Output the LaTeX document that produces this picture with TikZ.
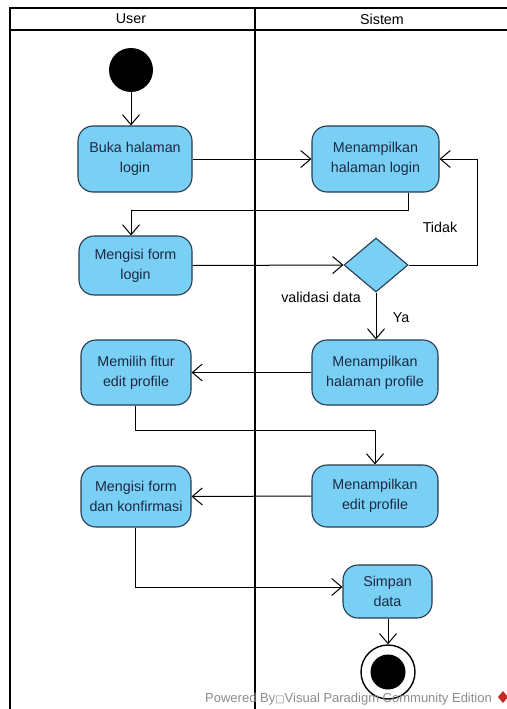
\documentclass[tikz,border=0pt]{standalone}
\usepackage{fontspec}
\setmainfont{Liberation Sans}
\newfontfamily\symfont{DejaVu Sans}
\usetikzlibrary{arrows.meta,shapes.geometric}
\definecolor{actfill}{RGB}{122,207,245}
\definecolor{actline}{RGB}{38,58,80}
\definecolor{acttext}{RGB}{28,42,66}
\definecolor{vpred}{RGB}{200,40,40}
\tikzset{
  act/.style={draw=actline, line width=1.1pt, fill=actfill, rounded corners=15pt,
    text=acttext, align=center, font=\fontsize{14.3}{20}\selectfont, inner sep=0pt},
  decision/.style={draw=actline, line width=1.1pt, fill=actfill, diamond, inner sep=0pt,
    minimum width=64pt, minimum height=54pt},
  flow/.style={draw=black, line width=1pt,
    -{Straight Barb[length=10pt,width=17pt,line width=1pt]}},
  lane/.style={draw=black, line width=2pt},
  lbl/.style={text=black, font=\fontsize{14.3}{16}\selectfont, inner sep=0pt}
}
\begin{document}
\begin{tikzpicture}[x=1pt,y=-1pt]
  \useasboundingbox (0,0) rectangle (506,709);
  \fill[white] (0,0) rectangle (506,709);

  % swimlane frame
  \draw[lane] (10,730) -- (10,8) -- (530,8);
  \draw[lane] (10,30) -- (530,30);
  \draw[lane] (255,8) -- (255,730);
  \node[lbl] (hUser) at (131,19) {User};
  \node[lbl] (hSistem) at (382,19) {Sistem};

  % start
  \node[circle, fill=black, minimum size=44pt, inner sep=0pt] (start) at (131,70) {};

  % actions
  \node[act, minimum width=114pt, minimum height=66pt] (buka) at (135,159) {Buka halaman\\login};
  \node[act, minimum width=113pt, minimum height=59pt] (formlogin) at (135.5,265.5) {Mengisi form\\login};
  \node[act, minimum width=127pt, minimum height=66pt] (menlogin) at (375.5,159) {Menampilkan\\halaman login};
  \node[decision] (valid) at (376,265) {};
  \node[act, minimum width=126pt, minimum height=65pt] (menprofile) at (375,372.5) {Menampilkan\\halaman profile};
  \node[act, minimum width=110pt, minimum height=65pt] (memilih) at (136,372.5) {Memilih fitur\\edit profile};
  \node[act, minimum width=126pt, minimum height=62pt] (menedit) at (375,496) {Menampilkan\\edit profile};
  \node[act, minimum width=110pt, minimum height=61pt] (konfirm) at (136,496.5) {Mengisi form\\dan konfirmasi};
  \node[act, minimum width=89pt, minimum height=53pt] (simpan) at (387.5,591.5) {Simpan\\data};

  % end
  \node[circle, draw=black, line width=1.4pt, fill=white, minimum size=54pt, inner sep=0pt] (final) at (388,672) {};
  \node[circle, fill=black, minimum size=35pt, inner sep=0pt] (finaldot) at (final.center) {};

  % bend points
  \coordinate (k1) at (408,210);
  \coordinate (k2) at (131,210);
  \coordinate (t1) at (477,265);
  \coordinate (t2) at (477,159);
  \coordinate (m1) at (135,430);
  \coordinate (m2) at (375,430);
  \coordinate (s1) at (135,587);

  % flows
  \draw[flow] (start) -- (buka.north -| start);
  \draw[flow] (buka.east) -- (menlogin.west);
  \draw[flow] (menlogin.south -| k1) -- (k1) -- (k2) -- (formlogin.north -| k2);
  \draw[flow] (formlogin.east) -- (valid.west);
  \draw[flow] (valid.east) -- (t1) -- (t2) -- (menlogin.east);
  \draw[flow] (valid.south) -- (menprofile.north -| valid.south);
  \draw[flow] (menprofile.west) -- (memilih.east);
  \draw[flow] (memilih.south -| m1) -- (m1) -- (m2) -- (menedit.north -| m2);
  \draw[flow] (menedit.west) -- (konfirm.east);
  \draw[flow] (konfirm.south -| s1) -- (s1) -- (simpan.west |- s1);
  \draw[flow] (simpan.south -| final) -- (final.north);

  % guards
  \node[lbl] (ltidak) at (440,227) {Tidak};
  \node[lbl] (lvalid) at (321,297) {validasi data};
  \node[lbl] (lya) at (401,318) {Ya};

  % watermark
  \node[anchor=base west, inner sep=0pt, text=black!45, font=\fontsize{13}{14}\selectfont] (wm) at (205,702)
    {Powered By{\symfont\fontsize{10}{11}\selectfont □}Visual Paradigm Community Edition};
  \fill[vpred] (503,691) -- (508,697) -- (503,703) -- (498,697) -- cycle;
\end{tikzpicture}
\end{document}
